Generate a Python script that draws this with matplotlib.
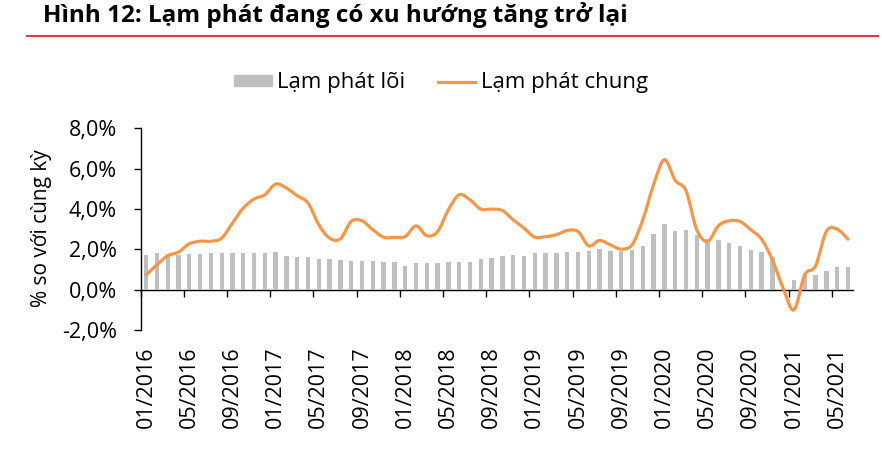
import numpy as np
import matplotlib
matplotlib.use("Agg")
import matplotlib.pyplot as plt
from matplotlib.path import Path
from matplotlib.patches import PathPatch
from matplotlib.lines import Line2D
from matplotlib.ticker import FuncFormatter

plt.rcParams['font.family'] = ['Open Sans', 'DejaVu Sans']

# monthly, 01/2016 .. 06/2021
months = [f"{m:02d}/{y}" for y in range(2016, 2022) for m in range(1, 13)][:66]

# core inflation (%, yoy) - bars
core = [1.72, 1.82, 1.77, 1.75, 1.77, 1.78, 1.82, 1.82, 1.82, 1.82, 1.82, 1.82,
        1.88, 1.69, 1.65, 1.62, 1.55, 1.52, 1.49, 1.45, 1.44, 1.44, 1.40, 1.39,
        1.17, 1.31, 1.34, 1.32, 1.36, 1.36, 1.39, 1.53, 1.60, 1.67, 1.72, 1.69,
        1.82, 1.82, 1.82, 1.87, 1.88, 1.93, 2.03, 1.93, 1.93, 1.98, 2.18, 2.78,
        3.26, 2.94, 2.96, 2.71, 2.53, 2.45, 2.30, 2.17, 1.98, 1.89, 1.61, 0.00,
        0.49, 0.82, 0.73, 0.95, 1.13, 1.13]

# headline inflation (%, yoy) - line
headline = [0.74, 1.24, 1.69, 1.87, 2.28, 2.41, 2.41, 2.56, 3.31, 4.05, 4.50, 4.71,
            5.24, 5.04, 4.66, 4.30, 3.22, 2.56, 2.53, 3.39, 3.42, 2.98, 2.61, 2.60,
            2.64, 3.17, 2.68, 2.89, 3.97, 4.71, 4.46, 4.00, 4.00, 3.93, 3.47, 3.06,
            2.61, 2.64, 2.73, 2.94, 2.89, 2.18, 2.45, 2.23, 2.02, 2.23, 3.47, 5.21,
            6.45, 5.42, 4.91, 2.98, 2.40, 3.17, 3.42, 3.39, 2.98, 2.51, 1.49, 0.08,
            -0.99, 0.74, 1.19, 2.89, 3.01, 2.51]

tick_labels = months[::4]

GRAY = '#BFBFBF'
ORANGE = '#F79646'
RED = '#E63841'

fig = plt.figure(figsize=(8.82, 4.66), dpi=100)
ax = fig.add_axes([0.1595, 0.2912, 0.808, 0.4335])

x = np.arange(len(months))
ax.bar(x, core, width=0.4, color=GRAY, zorder=2)

# smoothed line, like Excel's "smoothed line" option (Bezier through the points)
pts = np.column_stack([x, headline]).astype(float)
verts = [tuple(pts[0])]
codes = [Path.MOVETO]
n = len(pts)
for i in range(n - 1):
    p0 = pts[max(i - 1, 0)]
    p1 = pts[i]
    p2 = pts[i + 1]
    p3 = pts[min(i + 2, n - 1)]
    c1 = p1 + (p2 - p0) / 6.0
    c2 = p2 - (p3 - p1) / 6.0
    verts += [tuple(c1), tuple(c2), tuple(p2)]
    codes += [Path.CURVE4] * 3
ax.add_patch(PathPatch(Path(verts, codes), facecolor='none', edgecolor=ORANGE,
                       lw=2.3, capstyle='round', joinstyle='round', zorder=3))

ax.set_xlim(-0.5, 65.5)
ax.set_ylim(-2, 8)
ax.set_yticks([-2, 0, 2, 4, 6, 8])
ax.yaxis.set_major_formatter(FuncFormatter(lambda v, p: f"{v:.1f}%".replace('.', ',')))
ax.tick_params(axis='y', direction='out', length=5, width=1.0, pad=12, labelsize=15.5)

# category labels at the bottom, no tick marks
ax.set_xticks(x[::4])
ax.set_xticklabels(tick_labels, rotation=90)
ax.tick_params(axis='x', length=0, pad=11.5, labelsize=15.5)

for s in ['top', 'right', 'bottom']:
    ax.spines[s].set_visible(False)
ax.spines['left'].set_linewidth(1.0)

# axis line at zero with tick marks between categories
sec = ax.secondary_xaxis(0.2)
sec.set_xticks(np.arange(-0.5, 64, 4))
sec.tick_params(axis='x', direction='out', length=5, width=1.0, labelbottom=False)
sec.spines['bottom'].set_linewidth(1.0)

ax.set_ylabel('% so với cùng kỳ', fontsize=15)
ax.yaxis.set_label_coords(-0.124, 0.506)

handles = [plt.Rectangle((0, 0), 1, 1, color=GRAY),
           Line2D([], [], color=ORANGE, lw=2.3)]
fig.legend(handles, ['Lạm phát lõi', 'Lạm phát chung'], loc='center',
           bbox_to_anchor=(0.5, 0.822), ncol=2, frameon=False, fontsize=16,
           handlelength=1.7, handleheight=0.36, handletextpad=0.25,
           columnspacing=1.45)

fig.text(43 / 882, 1 - 22 / 466, 'Hình 12: Lạm phát đang có xu hướng tăng trở lại',
         fontsize=17.5, fontweight='bold', va='baseline', ha='left')
fig.add_artist(Line2D([27 / 882, 878 / 882], [1 - 36 / 466] * 2, color=RED, lw=1.5))

fig.savefig('out.png', dpi=100)
